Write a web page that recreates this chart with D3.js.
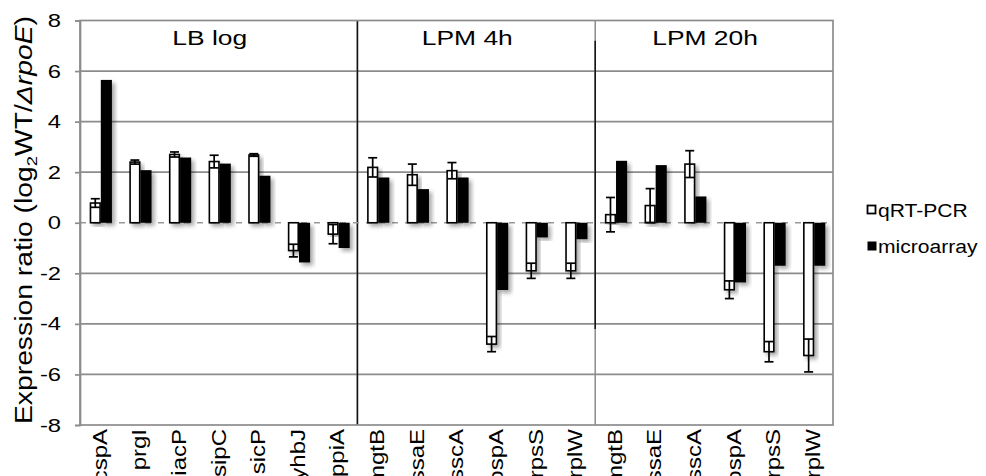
<!DOCTYPE html>
<html><head><meta charset="utf-8">
<script src="https://cdn.jsdelivr.net/npm/d3@7"></script>
<style>
body{margin:0;background:#fff}
svg{display:block}
text{font-family:"Liberation Sans",Arial,sans-serif;fill:#000}
</style>
</head><body><svg id="c" width="986" height="476"></svg>
<script>
// ---- data ----
const genes = ["cspA","prgI","iacP","sipC","sicP","yhbJ","ppiA",
               "mgtB","ssaE","sscA","ospA","rpsS","rplW",
               "mgtB","ssaE","sscA","ospA","rpsS","rplW"];
const panels = ["LB log","LPM 4h","LPM 20h"];
const panelSizes = [7,6,6];
const qrtValues   = [0.78, 2.40, 2.70, 2.42, 2.68, -1.10, -0.45,
                     2.19, 1.90, 2.06, -4.80, -1.90, -1.90,
                     0.32, 0.68, 2.32, -2.65, -5.10, -5.25];
const qrtErrors   = [0.17, 0.08, 0.10, 0.25, 0.05, 0.25, 0.38,
                     0.38, 0.42, 0.32, 0.30, 0.30, 0.30,
                     0.68, 0.67, 0.53, 0.35, 0.40, 0.65];
const microValues = [5.65, 2.08, 2.58, 2.34, 1.86, -1.57, -1.00,
                     1.79, 1.33, 1.79, -2.66, -0.58, -0.65,
                     2.45, 2.28, 1.04, -2.36, -1.70, -1.70];
const yTicks = [-8,-6,-4,-2,0,2,4,6,8];
const seriesNames = ["qRT-PCR","microarray"];

// ---- layout ----
const L=80, R=833, T=20.5, B=425;
const svg = d3.select("#c");
const defs = svg.append("defs");
const flt = defs.append("filter").attr("id","sh")
  .attr("x","-50%").attr("y","-20%").attr("width","200%").attr("height","140%");
flt.append("feDropShadow").attr("dx",3).attr("dy",3).attr("stdDeviation",2.2)
  .attr("flood-color","#000").attr("flood-opacity",0.35);

const x = d3.scaleBand().domain(d3.range(genes.length)).range([L,R]).padding(0);
const y = d3.scaleLinear().domain([-8,8]).range([B,T]);
const bw = x.bandwidth()*0.28;
const cx = i => x(i) + x.bandwidth()/2 + 1;

function stretch(sel, k){
  sel.each(function(){
    const n = this.getComputedTextLength();
    d3.select(this).attr("textLength", n*k).attr("lengthAdjust","spacingAndGlyphs");
  });
}

const grid = "#8c8c8c";
// gridlines
svg.append("g").selectAll("line").data(yTicks.filter(t=>t!==0 && t!==8 && t!==-8)).join("line")
  .attr("x1",L).attr("x2",R).attr("y1",d=>y(d)).attr("y2",d=>y(d))
  .attr("stroke",grid).attr("stroke-width",1.7);

// panel dividers
let acc=0; const bounds=[];
panelSizes.forEach(s=>{bounds.push(acc); acc+=s;});
const divs = bounds.slice(1);
svg.append("g").selectAll("line").data(divs).join("line")
  .attr("x1",d=>x(d)).attr("x2",d=>x(d)).attr("y1",T).attr("y2",B)
  .attr("stroke",grid).attr("stroke-width",1.5);
svg.append("line").attr("x1",x(divs[0])).attr("x2",x(divs[0]))
  .attr("y1",T).attr("y2",B).attr("stroke","#111").attr("stroke-width",1.5);
svg.append("line").attr("x1",x(divs[1])).attr("x2",x(divs[1]))
  .attr("y1",y(7.2)).attr("y2",y(-4.2)).attr("stroke","#111").attr("stroke-width",1.5);

// frame
svg.append("rect").attr("x",L).attr("y",T).attr("width",R-L).attr("height",B-T)
  .attr("fill","none").attr("stroke",grid).attr("stroke-width",1.7);

// zero line dashed
svg.append("line").attr("x1",L).attr("x2",R).attr("y1",y(0)).attr("y2",y(0))
  .attr("stroke","#999").attr("stroke-width",1.7).attr("stroke-dasharray","6,7");

// y axis
const ax = svg.append("g").attr("transform",`translate(${L},0)`)
  .call(d3.axisLeft(y).tickValues(yTicks).tickSize(5).tickPadding(14).tickFormat(d=>String(d)));
ax.select(".domain").attr("stroke",grid).attr("stroke-width",1.7);
ax.selectAll(".tick line").attr("stroke",grid).attr("stroke-width",1.7);
ax.selectAll(".tick text").attr("font-size",19).attr("font-family","Liberation Sans, Arial, sans-serif")
  .attr("fill","#000");
stretch(ax.selectAll(".tick text"), 1.25);

// bars
const idx = d3.range(genes.length);
svg.append("g").selectAll("rect").data(idx).join("rect")
  .attr("x",i=>cx(i)).attr("width",bw)
  .attr("y",i=>y(Math.max(0,microValues[i]))).attr("height",i=>Math.abs(y(microValues[i])-y(0)))
  .attr("fill","#000").attr("filter","url(#sh)");
svg.append("g").selectAll("rect").data(idx).join("rect")
  .attr("x",i=>cx(i)-bw+0.75).attr("width",bw-1.5)
  .attr("y",i=>y(Math.max(0,qrtValues[i]))).attr("height",i=>Math.abs(y(qrtValues[i])-y(0)))
  .attr("fill","#fff").attr("stroke","#000").attr("stroke-width",1.6).attr("filter","url(#sh)");

// error bars
const eb = svg.append("g").attr("stroke","#000").attr("stroke-width",1.7);
idx.forEach(i=>{
  const ex = cx(i)-bw/2;
  const y1 = y(qrtValues[i]+qrtErrors[i]), y2 = y(qrtValues[i]-qrtErrors[i]);
  eb.append("line").attr("x1",ex).attr("x2",ex).attr("y1",y1).attr("y2",y2);
  eb.append("line").attr("x1",ex-4.5).attr("x2",ex+4.5).attr("y1",y1).attr("y2",y1);
  eb.append("line").attr("x1",ex-4.5).attr("x2",ex+4.5).attr("y1",y2).attr("y2",y2);
});

// category labels
svg.append("g").selectAll("text").data(idx).join("text")
  .attr("transform",i=>`translate(${cx(i)-1},429) rotate(-90)`)
  .attr("text-anchor","end").attr("dy","0.34em").attr("font-size",20)
  .text(i=>genes[i])
  .call(s=>stretch(s,1.2));

// panel titles
svg.append("g").selectAll("text").data(panels).join("text")
  .attr("x",(d,k)=>(x(bounds[k]) + (k<panels.length-1 ? x(bounds[k+1]) : R))/2 - 9)
  .attr("y",45).attr("text-anchor","middle").attr("font-size",20)
  .text(d=>d)
  .call(s=>stretch(s,1.32));

// y label
const yl = svg.append("text").attr("transform","translate(32,220) rotate(-90)")
  .attr("text-anchor","middle").attr("font-size",23);
yl.append("tspan").text("Expression ratio (log");
yl.append("tspan").attr("font-size",15).attr("dy",5).text("2");
yl.append("tspan").attr("dy",-5).text("WT/");
yl.append("tspan").attr("font-style","italic").text("\u0394rpoE");
yl.append("tspan").text(")");
yl.attr("textLength",408).attr("lengthAdjust","spacingAndGlyphs");

// legend
const lg = svg.append("g");
seriesNames.forEach((n,k)=>{
  const cy = 210 + k*36;
  lg.append("rect").attr("x",867.5).attr("y",cy-4.5).attr("width",k?9:8).attr("height",k?9:8)
    .attr("fill",k?"#000":"#fff").attr("stroke","#000").attr("stroke-width",k?0:1.8);
  lg.append("text").attr("x",878).attr("y",cy+6.5).attr("font-size",18).text(n)
    .call(s=>stretch(s,1.17));
});
</script>
</body></html>
